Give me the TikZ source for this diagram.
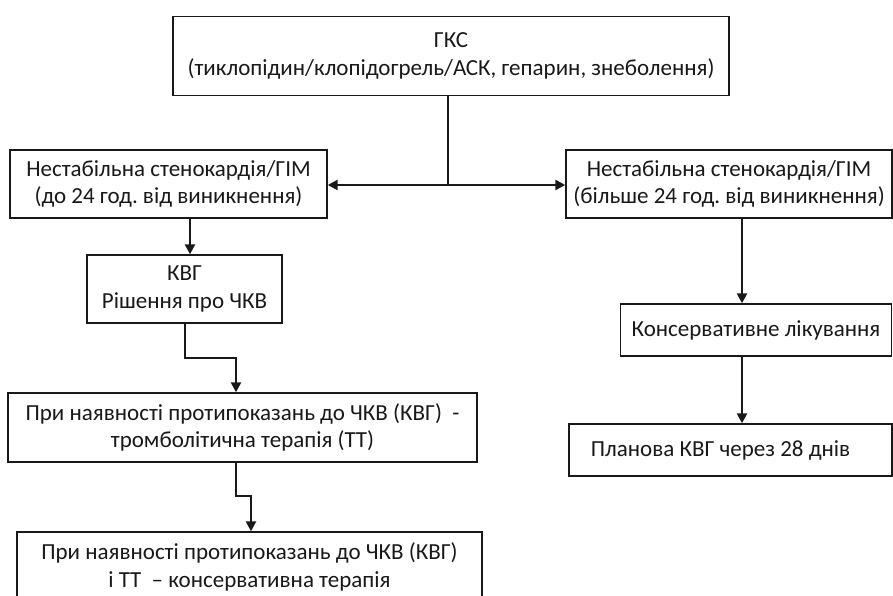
\documentclass[tikz,border=0pt]{standalone}
\usepackage{fontspec}
\setmainfont{Carlito}
\usetikzlibrary{arrows.meta}
\frenchspacing
\tikzset{
  box/.style={draw=black!90, line width=1.4pt, inner sep=0pt, align=center,
    font=\fontsize{23}{27.5}\selectfont, text=black!90},
  link/.style={draw=black!90, line width=2.4pt,
    -{Triangle[length=10pt,width=10pt]}},
  plain/.style={draw=black!90, line width=2.4pt}
}
\begin{document}
\begin{tikzpicture}[x=1pt,y=-1pt]
\useasboundingbox (0,0) rectangle (893,595);
\clip (0,0) rectangle (893,595);
\fill[white] (0,0) rectangle (893,595);

% boxes
\node[box, minimum width=556pt, minimum height=79pt] (gks) at (451,56)
  {ГКС\\(тиклопідин/клопідогрель/АСК, гепарин, знеболення)};
\node[box, minimum width=317pt, minimum height=68pt] (early) at (168.5,184)
  {Нестабільна стенокардія/ГІМ\\(до 24 год. від виникнення)};
\node[box, minimum width=326pt, minimum height=68pt] (late) at (729,184)
  {Нестабільна стенокардія/ГІМ\\(більше 24 год. від виникнення)};
\node[box, minimum width=195pt, minimum height=68pt] (kvg) at (184.5,289)
  {КВГ\\Рішення про ЧКВ};
\node[box, minimum width=469pt, minimum height=69pt] (tt) at (242.5,427.5)
  {При наявності протипоказань до ЧКВ (КВГ)~~-\\тромболітична терапія (ТТ)};
\node[box, minimum width=465pt, minimum height=70pt] (cons) at (249.5,567)
  {При наявності протипоказань до ЧКВ (КВГ)\\і ТТ~~– консервативна терапія};
\node[box, minimum width=271pt, minimum height=52pt] (treat) at (756,330)
  {Консервативне лікування};
\node[box, minimum width=323pt, minimum height=52pt] (plan) at (730.5,450)
  {\hspace*{-20pt}Планова КВГ через 28 днів};

% split from the top box
\coordinate (fork) at (448,185);
\draw[plain] (gks.south -| fork) -- (fork);
\draw[link] (fork) -- (early.east |- fork);
\draw[link] (fork) -- (late.west |- fork);

% left branch
\draw[link] (early.south -| 190,0) -- (kvg.north -| 190,0);
\draw[link] (kvg.south -| 185,0) -- (185,358) -- (236,358) -- (tt.north -| 236,0);
\draw[link] (tt.south -| 236,0) -- (236,496) -- (251,496) -- (cons.north -| 251,0);

% right branch
\draw[link] (late.south -| 742,0) -- (treat.north -| 742,0);
\draw[link] (treat.south -| 742,0) -- (plan.north -| 742,0);
\end{tikzpicture}
\end{document}
